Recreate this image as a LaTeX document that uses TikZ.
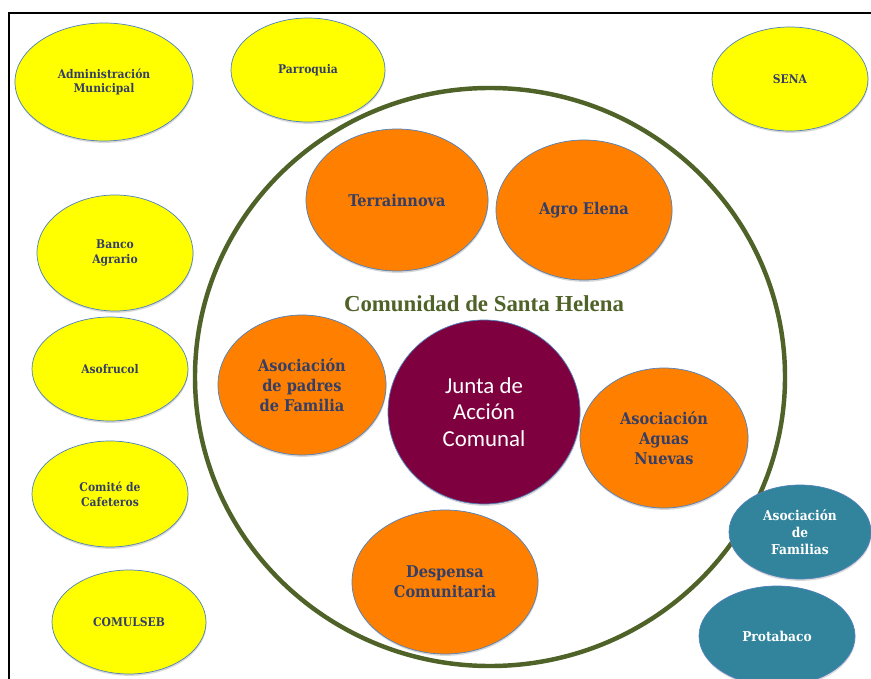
\documentclass[tikz,border=0pt]{standalone}
\usepackage{fontspec}
\newfontfamily\juntafont{Carlito}
\newfontfamily\orgfont{DejaVu Serif Condensed}
\newfontfamily\titlefont{Liberation Serif}
\usetikzlibrary{shapes.geometric,shadows}
\definecolor{MyYellow}{RGB}{255,255,0}
\definecolor{MyOrange}{RGB}{255,128,0}
\definecolor{MyTeal}{RGB}{49,132,155}
\definecolor{MyWine}{RGB}{127,0,63}
\definecolor{MyOlive}{RGB}{79,98,40}
\definecolor{MyEdge}{RGB}{79,129,189}
\definecolor{MyText}{RGB}{52,62,102}

\tikzset{
  org/.style={ellipse,draw=MyEdge,line width=0.6pt,inner sep=0pt,align=center,
    drop shadow={shadow xshift=0.4pt,shadow yshift=-1.6pt,opacity=.3}},
  outside/.style={org,fill=MyYellow,text=MyText,font=\orgfont\bfseries\fontsize{10.2}{12.5}\selectfont},
  inside/.style={org,fill=MyOrange,text=MyText,font=\orgfont\bfseries\fontsize{13.8}{16.8}\selectfont},
  ally/.style={org,fill=MyTeal,text=white,font=\orgfont\bfseries\fontsize{11.6}{14.5}\selectfont},
}

\begin{document}
\begin{tikzpicture}[x=0.03cm,y=-0.03cm]
            \fill[white] (0,0) rectangle (871,679);
            \useasboundingbox (0,0) rectangle (871,679);
            \draw[black,line width=1.2pt] (9,679) -- (9,13) -- (871,13);
            % community
            \node[ellipse,draw=MyOlive,line width=3.8pt,minimum width=17.7cm,minimum height=17.34cm] (comunidad) at (490,377) {};
            \node[text=MyOlive,font=\titlefont\bfseries\fontsize{19.5}{21}\selectfont] (titulo) at (484,304) {Comunidad de Santa Helena};
            % outside
            \node[outside,minimum width=5.34cm,minimum height=3.54cm] (adm) at (104,82) {Administración\\Municipal};
            \node[outside,minimum width=4.62cm,minimum height=3.12cm] (parroquia) at (308,70) {Parroquia};
            \node[outside,minimum width=4.68cm,minimum height=3.12cm] (sena) at (790,79) {SENA};
            \node[outside,minimum width=4.68cm,minimum height=3.48cm] (banco) at (115,253) {Banco\\Agrario};
            \node[outside,minimum width=4.68cm,minimum height=3.12cm] (asofrucol) at (110,369) {Asofrucol};
            \node[outside,minimum width=4.68cm,minimum height=3.18cm] (cafeteros) at (110,494) {Comité de\\Cafeteros};
            \node[outside,minimum width=4.62cm,minimum height=3.12cm] (comulseb) at (129,622) {COMULSEB};
            % inside
            \node[inside,minimum width=5.46cm,minimum height=4.26cm] (terrainnova) at (397,200) {Terrainnova};
            \node[inside,minimum width=5.28cm,minimum height=4.2cm] (agro) at (584,210) {Agro Elena};
            \node[inside,minimum width=5.04cm,minimum height=4.2cm] (padres) at (302,385) {Asociación\\de padres\\de Familia};
            \node[inside,minimum width=5.04cm,minimum height=4.2cm] (aguas) at (664,438) {Asociación\\Aguas\\Nuevas};
            \node[inside,minimum width=5.58cm,minimum height=4.32cm] (despensa) at (445,582) {Despensa\\Comunitaria};
            \node[org,fill=MyWine,text=white,font=\juntafont\fontsize{19.5}{22.5}\selectfont,minimum width=5.76cm,minimum height=5.52cm] (junta) at (484,412) {Junta de\\Acción\\Comunal};
            % allies
            \node[ally,minimum width=4.26cm,minimum height=2.82cm] (familias) at (800,532) {Asociación\\de\\Familias};
            \node[ally,minimum width=4.68cm,minimum height=3.0cm] (protabaco) at (777,636) {Protabaco};
        \end{tikzpicture}
\end{document}
